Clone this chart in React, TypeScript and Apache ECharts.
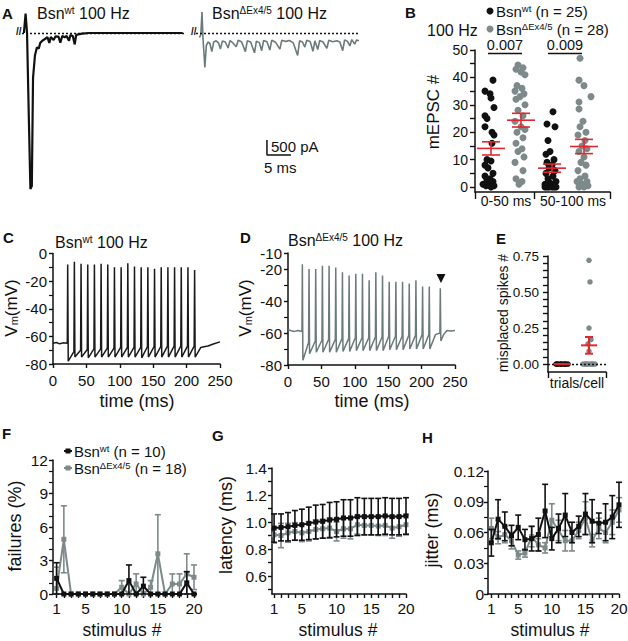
import React, { useEffect, useRef } from 'react';
import * as echarts from 'echarts';

const FONT = '"Liberation Sans", Arial, Helvetica, sans-serif';
const BLACK = '#111111';
const GRAY = '#7e8a8a';
const GRAY_LINE = '#6c7a7a';
const RED = '#e0282e';

// ---------- Panel A: current traces [time ms, current pA]
const aWtTrace = [
  [0.4, 0], [0.75, 650], [1.05, 0], [1.45, -3000], [1.75, -5200], [2.05, -5100], [2.3, -1500], [2.7, -750],
  [3.1, -480], [3.5, -520], [3.8, -330], [4.3, -250], [4.8, -200], [5.3, -140], [5.7, -330], [6.0, -130],
  [6.6, -230], [7.0, -110], [7.6, -120], [8.0, -320], [8.4, -100], [8.9, -140], [9.3, -100], [9.8, -260],
  [10.1, -70], [10.6, -100], [11.0, -380], [11.3, -60], [12.5, -20], [14, 0], [20, 0], [26, 0], [33.5, 0],
];
const aMutTrace = [
  [0.7, -150], [1.0, -60], [1.25, 700], [1.45, -150], [1.85, -1150], [2.15, -420], [2.5, -300], [2.9, -350],
  [3.3, -620], [3.7, -300], [4.2, -260], [4.7, -330], [5.1, -530], [5.5, -270], [6.1, -300], [6.7, -500],
  [7.1, -250], [7.7, -330], [8.4, -460], [8.8, -240], [9.5, -290], [10.3, -620], [10.7, -260], [11.4, -300],
  [12.2, -660], [12.6, -270], [13.2, -320], [13.7, -590], [14.1, -250], [14.8, -290], [15.4, -570], [15.8, -240],
  [16.6, -310], [17.5, -540], [17.9, -240], [18.7, -280], [19.5, -250], [20.3, -330], [21.2, -750], [21.6, -260],
  [22.2, -300], [22.7, -470], [23.1, -240], [23.8, -280], [24.4, -610], [24.8, -260], [25.4, -550], [25.8, -250],
  [26.5, -300], [27.3, -510], [27.7, -240], [28.5, -290], [29.4, -260], [30.0, -300], [30.6, -590], [31.0, -230],
  [31.6, -280], [32.1, -430], [32.5, -220], [33.1, -370], [33.5, -230], [34.0, -260],
];
const scaleBarAmp = 500; // pA
const scaleBarDur = 5; // ms
const scaleBarAnchor = [14.8, -4070];

// ---------- Panel B: mEPSC counts
const bGroupNames = ['0-50 ms', '50-100 ms'];
const bCenters = [15, 45, 76, 108];
const bWt0 = [39, 35, 34, 32.5, 29, 26, 25, 22, 20, 19, 16, 10, 9.5, 8, 7, 5, 4, 3, 2.5, 2, 1, 1, 0.5, 0.5, 0];
const bWt0Jit = [3, -5, 0, 1, 4, -5, -3, -5, 2, 4, 2, -3, 1, -5, -2, 3, -5, 0, -3, 3, -7, -1, 4, -4, 1];
const bMut0 = [44.5, 43.5, 43, 42, 41, 37, 36, 35, 34, 33, 32, 30, 28, 26, 24, 22, 21, 20, 18, 16, 14, 13, 11, 9, 6, 3, 2, 1];
const bMut0Jit = [-2, 3, -4, 1, 5, -3, 2, -5, 4, 0, -4, 5, -2, 3, -5, 1, 5, -3, 3, -4, 2, -2, 4, -5, 3, -4, 2, -1];
const bWt1 = [27.5, 23, 22, 17, 13, 12, 10, 9, 8, 7, 6, 5, 4, 3, 2, 1.5, 1, 0.5, 0.5, 0, 0, 0, 0, 0, 0];
const bWt1Jit = [2, -4, 4, -3, -1, -5, 3, -4, 1, -2, 4, -5, 2, -3, 5, -1, -6, 3, 0, -4, 1, 5, -2, 3, -6];
const bMut1 = [47, 39, 37, 33, 31, 28.5, 24, 22, 20, 19, 17, 15, 14, 13, 11, 9, 8, 6, 4, 3, 2, 2, 1, 0.5, 0.5, 1, 0, 0];
const bMut1Jit = [-3, -4, 1, 8, -4, -4, 0, -3, 3, -5, 2, -1, 4, -4, 1, -2, 3, -5, 2, -3, 4, -6, 0, 5, -2, 3, -4, 1];
const bMeans = [14.1, 24.4, 6.9, 14.8];
const bSems = [2.4, 2.5, 1.5, 2.6];

// ---------- Panel C: Vm trace (wt)
const cPre = [[0, -65], [5, -64.4], [10, -65.4], [15, -64.7], [21.4, -65]];
const cSpikeT = [22, 32, 42, 52, 62, 72, 82, 92, 102, 112, 122, 132, 142, 152, 162, 172, 182, 192, 202, 212];
const cPeak = [-8, -6, -7.5, -8, -8, -7.5, -8, -10, -10, -7, -9.5, -10, -10, -11, -10, -10, -10, -10, -10, -12];
const cTrough = [-78, -75, -75, -75.5, -75, -75, -75, -75, -75, -75, -75, -75.5, -75, -75, -75, -75, -75, -75, -75, -75];
const cRest = [-71, -70, -69.5, -69, -69, -68.5, -68.5, -68, -68, -68, -68, -67.5, -67.5, -67.5, -67, -67, -67, -67, -67, -68];
const cPost = [[226, -67.5], [232, -67], [240, -65.5], [250, -64]];

// ---------- Panel D: Vm trace (ΔEx4/5)
const dPre = [[0, -58], [5, -58.6], [10, -59], [15, -58.4], [20.9, -59]];
const dSpikeT = [21.5, 31.5, 41.5, 51.5, 61.5, 71.5, 81.5, 91.5, 101.5, 111.5, 121.5, 131.5, 141.5, 151.5, 161.5, 171.5, 181.5, 191.5, 201.5, 211.5];
const dPeak = [-17, -20, -20, -18, -18, -19, -22, -24, -23, -23, -27, -22, -24, -28, -28, -28, -29, -27, -31, -31];
const dTrough = [-77, -73, -72, -72, -72, -72, -71.5, -71.5, -71, -71, -71, -71, -71, -70.5, -70.5, -70.5, -70, -70, -70, -70];
const dRest = [-66, -65, -64.5, -64, -64, -63.5, -63.5, -63, -63, -63, -62.5, -62.5, -62, -62, -62, -61.5, -61.5, -61, -61, -61];
const dPost = [[227.4, -60], [228, -32], [228.8, -65], [233, -61], [238, -58.5], [244, -58.8], [250, -58.5]];
const dArrow = [229, -26];

// ---------- Panel E: misplaced spikes per trial per cell
const eCenters = [14, 41];
const eWt = [0, 0, 0, 0, 0, 0, 0, 0, 0, 0];
const eWtJit = [-6, -4, -2, 0, 2, 4, 6, -5, -1, 3];
const eMut = [0.72, 0.57, 0.25, 0.17, 0.14, 0.09, 0, 0, 0, 0, 0, 0, 0, 0, 0];
const eMutJit = [0, 1, 0, 2, -1, 0, -6, -4, -2, 0, 2, 4, 6, -3, 3];
const eMeans = [0, 0.13];
const eSems = [0, 0.058];
const eTicks = [0, 0.05, 0.1, 0.15, 0.2, 0.25, 0.3, 0.35, 0.4, 0.45, 0.5, 0.55, 0.6, 0.65, 0.7, 0.75];
const eLabels = [0, 0.25, 0.5, 0.75];

// ---------- Panels F, G, H: per stimulus
const stims = [1, 2, 3, 4, 5, 6, 7, 8, 9, 10, 11, 12, 13, 14, 15, 16, 17, 18, 19, 20];
const stimLabels = [1, 5, 10, 15, 20];
const fWtMean = [1.4, 0, 0, 0, 0, 0, 0, 0, 0, 0, 1.2, 0, 0.7, 0, 0, 0, 0, 0, 1.0, 0];
const fWtSem = [1.4, 0, 0, 0, 0, 0, 0, 0, 0, 0, 1.4, 0, 0.8, 0, 0, 0, 0, 0, 1.0, 0];
const fMutMean = [0.5, 4.9, 0, 0, 0, 0, 0, 0, 0, 0.6, 0, 0.9, 0, 0.6, 3.6, 0, 0.9, 0.9, 1.8, 1.5];
const fMutSem = [1.9, 3.0, 0, 0, 0, 0, 0, 0, 0, 0.6, 0, 0.9, 0, 0.6, 3.5, 0, 0.9, 0.9, 1.8, 1.1];
const gWtMean = [0.955, 0.96, 0.965, 0.975, 0.98, 0.99, 1.0, 1.005, 1.015, 1.02, 1.03, 1.03, 1.04, 1.04, 1.04, 1.04, 1.045, 1.04, 1.04, 1.045];
const gWtErr = [0.105, 0.1, 0.105, 0.11, 0.115, 0.12, 0.125, 0.125, 0.13, 0.13, 0.135, 0.135, 0.14, 0.135, 0.135, 0.135, 0.135, 0.135, 0.135, 0.135];
const gMutMean = [0.905, 0.9, 0.92, 0.93, 0.92, 0.93, 0.945, 0.95, 0.955, 0.93, 0.95, 0.95, 0.98, 0.975, 0.975, 0.97, 0.975, 0.955, 0.965, 0.98];
const gMutErr = [0.06, 0.09, 0.07, 0.065, 0.065, 0.07, 0.07, 0.07, 0.075, 0.07, 0.07, 0.075, 0.07, 0.07, 0.07, 0.07, 0.075, 0.075, 0.07, 0.075];
const gTicks = [0.5, 0.6, 0.7, 0.8, 0.9, 1.0, 1.1, 1.2, 1.3, 1.4];
const gLabels = [0.6, 0.8, 1.0, 1.2, 1.4];
const hWtMean = [0.05, 0.073, 0.066, 0.057, 0.065, 0.053, 0.054, 0.058, 0.081, 0.054, 0.064, 0.077, 0.06, 0.066, 0.078, 0.071, 0.069, 0.07, 0.075, 0.087];
const hWtErr = [0.013, 0.019, 0.014, 0.01, 0.012, 0.01, 0.012, 0.016, 0.026, 0.011, 0.014, 0.021, 0.01, 0.01, 0.02, 0.021, 0.01, 0.018, 0.021, 0.022];
const hMutMean = [0.064, 0.055, 0.058, 0.052, 0.038, 0.04, 0.056, 0.048, 0.045, 0.072, 0.062, 0.052, 0.052, 0.062, 0.074, 0.052, 0.064, 0.06, 0.07, 0.082];
const hMutErr = [0.01, 0.006, 0.008, 0.008, 0.004, 0.004, 0.01, 0.006, 0.005, 0.016, 0.01, 0.01, 0.01, 0.008, 0.016, 0.006, 0.01, 0.01, 0.012, 0.012];

// ---------- helpers
function spikeTrain(pre: number[][], times: number[], peaks: number[], troughs: number[], rests: number[], post: number[][]) {
  const pts: number[][] = pre.slice();
  times.forEach((t, i) => {
    pts.push([t, peaks[i]]);
    pts.push([t + 0.8, troughs[i]]);
    pts.push([t + 9.3, rests[i]]);
  });
  return pts.concat(post);
}

function jittered(center: number, jit: number[], vals: number[]) {
  return vals.map((v, i) => [center + jit[i], v]);
}

const axLine = { show: true, onZero: false, lineStyle: { color: BLACK, width: 1.5 } };

function makeAxis(gridIndex: number, o: any) {
  return {
    gridIndex,
    type: 'value',
    axisLine: axLine,
    splitLine: { show: false },
    ...o,
    axisTick: { show: true, length: 4, lineStyle: { color: BLACK, width: 1.4 }, ...(o.axisTick || {}) },
    axisLabel: { color: BLACK, fontFamily: FONT, fontSize: 15, margin: 6, ...(o.axisLabel || {}) },
    minorTick: o.minorTick ? { show: true, length: 4, lineStyle: { color: BLACK, width: 1.2 }, ...o.minorTick } : { show: false },
  };
}

function hidden(gridIndex: number, min: number, max: number) {
  return { gridIndex, type: 'value', min, max, show: false, splitLine: { show: false } };
}

const errBar = (color: string, cap: number, clip0: boolean) => (params: any, api: any) => {
  const x = api.value(0), m = api.value(1), e = api.value(2);
  const lo = clip0 ? Math.max(m - e, 0) : m - e;
  const t = api.coord([x, m + e]);
  const b = api.coord([x, lo]);
  const st = { stroke: color, lineWidth: 1.6 };
  return {
    type: 'group',
    children: [
      { type: 'line', shape: { x1: t[0], y1: t[1], x2: b[0], y2: b[1] }, style: st },
      { type: 'line', shape: { x1: t[0] - cap, y1: t[1], x2: t[0] + cap, y2: t[1] }, style: st },
      { type: 'line', shape: { x1: b[0] - cap, y1: b[1], x2: b[0] + cap, y2: b[1] }, style: st },
    ],
  };
};

const meanBar = (hw: number, cap: number, lw: number) => (params: any, api: any) => {
  const x = api.value(0), m = api.value(1), s = api.value(2);
  const pm = api.coord([x, m]);
  const pt = api.coord([x, m + s]);
  const pb = api.coord([x, m - s]);
  const st = { stroke: RED, lineWidth: lw };
  return {
    type: 'group',
    children: [
      { type: 'line', shape: { x1: pm[0] - hw, y1: pm[1], x2: pm[0] + hw, y2: pm[1] }, style: st },
      { type: 'line', shape: { x1: pt[0], y1: pt[1], x2: pb[0], y2: pb[1] }, style: st },
      { type: 'line', shape: { x1: pt[0] - cap, y1: pt[1], x2: pt[0] + cap, y2: pt[1] }, style: st },
      { type: 'line', shape: { x1: pb[0] - cap, y1: pb[1], x2: pb[0] + cap, y2: pb[1] }, style: st },
    ],
  };
};

function txt(x: number, y: number, text: string, o: any = {}) {
  return {
    type: 'text',
    x,
    y,
    rotation: o.rot || 0,
    silent: true,
    z: 100,
    style: {
      text,
      fill: BLACK,
      fontFamily: FONT,
      fontSize: o.size || 16,
      fontWeight: o.weight || 'normal',
      align: o.align || 'left',
      verticalAlign: 'middle',
      rich: o.rich,
    },
  };
}

function richTitle(base: number, sup: number) {
  return {
    n: { fontSize: base, fontFamily: FONT, fill: BLACK, lineHeight: base },
    s: { fontSize: sup, fontFamily: FONT, fill: BLACK, lineHeight: sup, verticalAlign: 'top' },
    m: { fontSize: sup + 1, fontFamily: FONT, fill: BLACK, lineHeight: sup + 1, verticalAlign: 'bottom' },
  };
}

export default function App() {
  const ref = useRef<HTMLDivElement>(null);
  useEffect(() => {
    if (!ref.current) return;
    const chart = echarts.init(ref.current, undefined, { renderer: 'svg' });

    const cTrace = spikeTrain(cPre, cSpikeT, cPeak, cTrough, cRest, cPost);
    const dTrace = spikeTrain(dPre, dSpikeT, dPeak, dTrough, dRest, dPost);
    const sb = scaleBarAnchor;

    const grids = [
      { left: 22, top: 12, width: 163, height: 180 },
      { left: 196, top: 12, width: 163, height: 180 },
      { left: 475, top: 50, width: 135, height: 142 },
      { left: 53, top: 253.5, width: 167, height: 110.5 },
      { left: 288, top: 253, width: 167, height: 112 },
      { left: 548, top: 256, width: 58, height: 116 },
      { left: 53, top: 460, width: 141, height: 134 },
      { left: 272, top: 468, width: 134, height: 126 },
      { left: 488, top: 471, width: 131, height: 123 },
    ].map((g) => ({ ...g, containLabel: false, outerBoundsMode: 'none' }));

    const stimX = (gi: number, min: number) =>
      makeAxis(gi, {
        min,
        max: 20,
        axisTick: { customValues: stims, length: 4 },
        axisLabel: { customValues: stimLabels, margin: 6, fontSize: 15.5 },
      });

    const xAxis = [
      hidden(0, 0, 34),
      hidden(1, 0, 34),
      makeAxis(2, {
        min: 0,
        max: 135,
        axisTick: { customValues: [0, 59, 135], length: 7 },
        axisLabel: {
          customValues: [31, 98],
          margin: 2,
          fontSize: 14,
          formatter: (v: number) => (v < 59 ? bGroupNames[0] : bGroupNames[1]),
        },
      }),
      makeAxis(3, { min: 0, max: 250, interval: 50, axisLabel: { margin: 9 } }),
      makeAxis(4, { min: 0, max: 250, interval: 50, axisLabel: { margin: 9 } }),
      makeAxis(5, {
        min: 0,
        max: 58,
        axisTick: { customValues: [0, 58], length: 6 },
        axisLabel: { customValues: [29], margin: 4, fontSize: 14, formatter: () => 'trials/cell' },
      }),
      stimX(6, 0.5),
      stimX(7, 0.7),
      stimX(8, 0.5),
    ];

    const yAxis = [
      hidden(0, -5300, 700),
      hidden(1, -5300, 700),
      makeAxis(2, {
        min: -1.8,
        max: 50,
        axisTick: { customValues: [0, 5, 10, 15, 20, 25, 30, 35, 40, 45, 50], length: 5 },
        axisLabel: { customValues: [0, 10, 20, 30, 40, 50], fontSize: 14, margin: 7 },
      }),
      makeAxis(3, { min: -80, max: 0, interval: 20, minorTick: { splitNumber: 2 } }),
      makeAxis(4, { min: -80, max: -10, interval: 20, minorTick: { splitNumber: 2 } }),
      makeAxis(5, {
        min: -0.055,
        max: 0.75,
        axisTick: { customValues: eTicks, length: 5 },
        axisLabel: { customValues: eLabels, fontSize: 13.5, margin: 9, formatter: (v: number) => v.toFixed(2) },
      }),
      makeAxis(6, { min: 0, max: 12, interval: 3, minorTick: { splitNumber: 3 }, axisLabel: { fontSize: 15.5, margin: 5 } }),
      makeAxis(7, {
        min: 0.467,
        max: 1.4,
        axisTick: { customValues: gTicks, length: 4 },
        axisLabel: { customValues: gLabels, fontSize: 15.5, margin: 5, formatter: (v: number) => v.toFixed(1) },
      }),
      makeAxis(8, {
        min: 0,
        max: 0.12,
        interval: 0.03,
        minorTick: { splitNumber: 2 },
        axisLabel: { fontSize: 15.5, margin: 4, formatter: (v: number) => (Math.abs(v) < 1e-9 ? '0' : v.toFixed(2)) },
      }),
    ];

    const dotted = (color: string) => ({
      silent: true,
      symbol: 'none',
      label: { show: false },
      lineStyle: { type: [2, 2], color, width: 1.3 },
      data: [{ yAxis: 0 }],
    });

    const lineSeries = (xi: number, data: any[], color: string, width: number, extra: any = {}) => ({
      type: 'line',
      xAxisIndex: xi,
      yAxisIndex: xi,
      data,
      showSymbol: false,
      symbol: 'none',
      lineStyle: { color, width },
      ...extra,
    });

    const statLine = (xi: number, means: number[], color: string, z: number) => ({
      type: 'line',
      xAxisIndex: xi,
      yAxisIndex: xi,
      data: stims.map((s, i) => [s, means[i]]),
      symbol: 'rect',
      symbolSize: 5,
      itemStyle: { color },
      lineStyle: { color, width: 2 },
      z,
    });

    const errSeries = (xi: number, means: number[], errs: number[], color: string, z: number, clip0: boolean) => ({
      type: 'custom',
      xAxisIndex: xi,
      yAxisIndex: xi,
      renderItem: errBar(color, 3, clip0),
      data: stims.map((s, i) => [s, means[i], errs[i]]),
      z,
    });

    const scatter = (xi: number, data: any[], color: string, size: number, extra: any = {}) => ({
      type: 'scatter',
      xAxisIndex: xi,
      yAxisIndex: xi,
      data,
      symbolSize: size,
      itemStyle: { color, opacity: 1 },
      ...extra,
    });

    const series: any[] = [
      // A
      lineSeries(0, aWtTrace, BLACK, 2.2, { markLine: dotted(BLACK), z: 3 }),
      lineSeries(1, aMutTrace, GRAY_LINE, 1.6, { markLine: dotted(BLACK), z: 3 }),
      lineSeries(1, [[sb[0], sb[1] + scaleBarAmp], [sb[0], sb[1]], [sb[0] + scaleBarDur, sb[1]]], BLACK, 1.5),
      // B
      scatter(2, jittered(bCenters[0], bWt0Jit, bWt0), BLACK, 7),
      scatter(2, jittered(bCenters[1], bMut0Jit, bMut0), GRAY, 7),
      scatter(2, jittered(bCenters[2], bWt1Jit, bWt1), BLACK, 7),
      scatter(2, jittered(bCenters[3], bMut1Jit, bMut1), GRAY, 7),
      {
        type: 'custom',
        xAxisIndex: 2,
        yAxisIndex: 2,
        renderItem: meanBar(14, 9, 1.6),
        data: bCenters.map((c, i) => [c + 1, bMeans[i], bSems[i]]),
        z: 10,
      },
      // C, D
      lineSeries(3, cTrace, '#1a1a1a', 1.5),
      lineSeries(4, dTrace, GRAY_LINE, 1.5),
      scatter(4, [dArrow], BLACK, 9, { symbol: 'triangle', symbolRotate: 180 }),
      // E
      scatter(5, jittered(eCenters[0], eWtJit, eWt), BLACK, 5.5, { markLine: dotted(BLACK) }),
      scatter(5, jittered(eCenters[1], eMutJit, eMut), GRAY, 5.5),
      {
        type: 'custom',
        xAxisIndex: 5,
        yAxisIndex: 5,
        renderItem: meanBar(8, 4, 2),
        data: eCenters.map((c, i) => [c, eMeans[i], eSems[i]]),
        z: 10,
      },
      // F
      errSeries(6, fMutMean, fMutSem, GRAY, 2, true),
      statLine(6, fMutMean, GRAY, 3),
      errSeries(6, fWtMean, fWtSem, BLACK, 4, true),
      statLine(6, fWtMean, BLACK, 5),
      // G
      errSeries(7, gMutMean, gMutErr, GRAY, 2, false),
      statLine(7, gMutMean, GRAY, 3),
      errSeries(7, gWtMean, gWtErr, BLACK, 4, false),
      statLine(7, gWtMean, BLACK, 5),
      // H
      errSeries(8, hMutMean, hMutErr, GRAY, 2, false),
      statLine(8, hMutMean, GRAY, 3),
      errSeries(8, hWtMean, hWtErr, BLACK, 4, false),
      statLine(8, hWtMean, BLACK, 5),
    ];

    const rt = richTitle(16, 10);
    const rtB = richTitle(15, 9.5);
    const rtL = richTitle(15, 9.5);
    const rtV = richTitle(17, 10);

    const graphic: any[] = [
      // panel letters
      txt(2, 13, 'A', { weight: 'bold', size: 15 }),
      txt(405, 12, 'B', { weight: 'bold', size: 15 }),
      txt(3, 237, 'C', { weight: 'bold', size: 15 }),
      txt(240, 237, 'D', { weight: 'bold', size: 15 }),
      txt(496, 238, 'E', { weight: 'bold', size: 15 }),
      txt(2, 433, 'F', { weight: 'bold', size: 15 }),
      txt(212, 435, 'G', { weight: 'bold', size: 15 }),
      txt(422, 437, 'H', { weight: 'bold', size: 15 }),
      // A
      txt(37, 13, '{n|Bsn}{s|wt}{n| 100 Hz}', { rich: rt }),
      txt(212, 13, '{n|Bsn}{s|ΔEx4/5}{n| 100 Hz}', { rich: rt }),
      txt(16, 31, '//', { size: 10, weight: 'bold' }),
      txt(191, 31, '//', { size: 10, weight: 'bold' }),
      txt(271, 146, '500 pA', { size: 15 }),
      txt(264, 167, '5 ms', { size: 15 }),
      // B
      txt(427, 30, '100 Hz', { size: 16 }),
      { type: 'circle', shape: { cx: 490, cy: 11, r: 3.5 }, style: { fill: BLACK }, silent: true },
      { type: 'circle', shape: { cx: 490, cy: 29, r: 3.5 }, style: { fill: GRAY }, silent: true },
      txt(496, 11, '{n|Bsn}{s|wt}{n| (n = 25)}', { rich: rtB }),
      txt(496, 29, '{n|Bsn}{s|ΔEx4/5}{n| (n = 28)}', { rich: rtB }),
      txt(505, 45, '0.007', { size: 14.5, align: 'center' }),
      txt(565, 45, '0.009', { size: 14.5, align: 'center' }),
      { type: 'line', shape: { x1: 488, y1: 53.5, x2: 522, y2: 53.5 }, style: { stroke: BLACK, lineWidth: 1.3 }, silent: true },
      { type: 'line', shape: { x1: 548, y1: 53.5, x2: 582, y2: 53.5 }, style: { stroke: BLACK, lineWidth: 1.3 }, silent: true },
      txt(433, 112, 'mEPSC #', { size: 17, align: 'center', rot: Math.PI / 2 }),
      // C, D
      txt(55, 242, '{n|Bsn}{s|wt}{n| 100 Hz}', { rich: rt }),
      txt(288, 240, '{n|Bsn}{s|ΔEx4/5}{n| 100 Hz}', { rich: rt }),
      txt(11, 308, '{n|V}{m|m}{n|(mV)}', { rich: rtV, align: 'center', rot: Math.PI / 2 }),
      txt(245, 308, '{n|V}{m|m}{n|(mV)}', { rich: rtV, align: 'center', rot: Math.PI / 2 }),
      txt(137, 401, 'time (ms)', { size: 18, align: 'center' }),
      txt(372, 401, 'time (ms)', { size: 18, align: 'center' }),
      // E
      txt(503, 313, 'misplaced spikes #', { size: 14, align: 'center', rot: Math.PI / 2 }),
      // F legend
      { type: 'line', shape: { x1: 64, y1: 451, x2: 72, y2: 451 }, style: { stroke: BLACK, lineWidth: 2 }, silent: true },
      { type: 'rect', shape: { x: 65.5, y: 448.5, width: 5, height: 5 }, style: { fill: BLACK }, silent: true },
      { type: 'line', shape: { x1: 64, y1: 468, x2: 72, y2: 468 }, style: { stroke: GRAY, lineWidth: 2 }, silent: true },
      { type: 'rect', shape: { x: 65.5, y: 465.5, width: 5, height: 5 }, style: { fill: GRAY }, silent: true },
      txt(74, 451, '{n|Bsn}{s|wt}{n| (n = 10)}', { rich: rtL }),
      txt(74, 468, '{n|Bsn}{s|ΔEx4/5}{n| (n = 18)}', { rich: rtL }),
      // F, G, H axis titles
      txt(15, 526, 'failures (%)', { size: 18, align: 'center', rot: Math.PI / 2 }),
      txt(226, 525, 'latency (ms)', { size: 18, align: 'center', rot: Math.PI / 2 }),
      txt(432, 530, 'jitter (ms)', { size: 18, align: 'center', rot: Math.PI / 2 }),
      txt(122, 630, 'stimulus #', { size: 17.5, align: 'center' }),
      txt(338, 630, 'stimulus #', { size: 17.5, align: 'center' }),
      txt(550, 630, 'stimulus #', { size: 17.5, align: 'center' }),
    ];

    chart.setOption({
      animation: false,
      backgroundColor: '#ffffff',
      textStyle: { fontFamily: FONT },
      grid: grids,
      xAxis,
      yAxis,
      series,
      graphic,
    });
    return () => chart.dispose();
  }, []);

  return (
    <div
      ref={ref}
      style={{ position: 'fixed', left: 0, top: 0, width: 628, height: 641, background: '#fff' }}
    />
  );
}
